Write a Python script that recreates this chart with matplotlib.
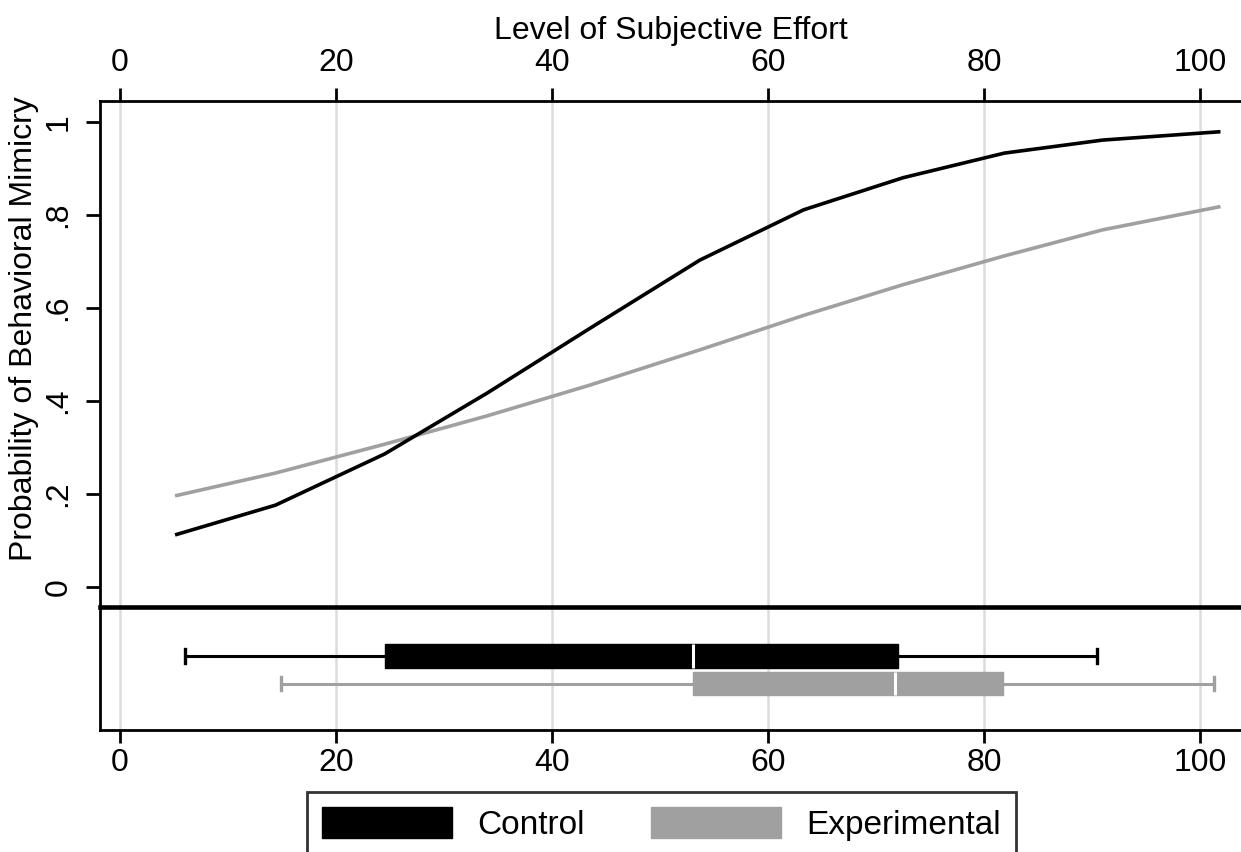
import matplotlib
matplotlib.use("Agg")
import matplotlib.pyplot as plt
from matplotlib.patches import Patch

# Predicted probability of behavioral mimicry across effort levels
effort = [5.1, 14.4, 24.5, 34.0, 43.5, 53.7, 63.3, 72.5, 81.9, 91.0, 101.9]
prob_control = [0.112, 0.176, 0.286, 0.417, 0.556, 0.703, 0.811, 0.880, 0.933, 0.961, 0.979]
prob_experimental = [0.196, 0.245, 0.307, 0.368, 0.434, 0.510, 0.584, 0.650, 0.712, 0.768, 0.818]

# Distribution of subjective effort per group (box plot summary)
groups = ["Control", "Experimental"]
whisker_low = [6.0, 14.9]
quartile_1 = [24.5, 53.1]
median = [53.1, 71.8]
quartile_3 = [72.0, 81.8]
whisker_high = [90.5, 101.3]

x_ticks = [0, 20, 40, 60, 80, 100]
y_ticks = [0, 0.2, 0.4, 0.6, 0.8, 1.0]
y_tick_labels = ["0", ".2", ".4", ".6", ".8", "1"]

BLACK = "#000000"
GRAY = "#a0a0a0"
GRID = "#dcdcdc"
colors = [BLACK, GRAY]

NARROW = ["Liberation Sans Narrow", "Liberation Sans", "DejaVu Sans"]
REGULAR = ["Liberation Sans", "DejaVu Sans"]
FS = 23

W, H = 1241, 852
fig = plt.figure(figsize=(W / 100, H / 100), dpi=100)

left = 100 / W
width = 1 - left
axb = fig.add_axes([left, (H - 730) / H, width, (730 - 607) / H])
ax = fig.add_axes([left, (H - 607) / H, width, (607 - 101) / H], sharex=axb)
axb.patch.set_visible(False)

xlim = (-1.85, 103.8)

# --- main panel: predicted probabilities ---
ax.set_xlim(*xlim)
ax.set_ylim(-0.043, 1.045)
for xv in x_ticks:
    ax.axvline(xv, color=GRID, lw=1.8, zorder=0)
ax.plot(effort, prob_experimental, color=GRAY, lw=2.6, solid_capstyle="butt", zorder=3)
ax.plot(effort, prob_control, color=BLACK, lw=2.6, solid_capstyle="butt", zorder=4)

ax.spines["right"].set_visible(False)
ax.spines["top"].set_linewidth(2.0)
ax.spines["left"].set_linewidth(2.0)
ax.spines["bottom"].set_linewidth(3.3)
ax.spines["bottom"].set_zorder(5)

ax.xaxis.set_ticks_position("top")
ax.xaxis.set_label_position("top")
ax.set_xticks(x_ticks)
ax.set_xticklabels([str(v) for v in x_ticks], family=NARROW, fontsize=FS)
ax.tick_params(axis="x", which="both", direction="out", length=9.4, width=2.0, pad=7.5)
ax.set_xlabel("Level of Subjective Effort", family=NARROW, fontsize=FS, labelpad=6)

ax.set_yticks(y_ticks)
ax.set_yticklabels(y_tick_labels, family=NARROW, fontsize=FS, rotation=90, va="center")
ax.tick_params(axis="y", direction="out", length=10, width=2.0, pad=9)
ax.set_ylabel("Probability of Behavioral Mimicry", family=REGULAR, fontsize=23)
ax.yaxis.set_label_coords(-0.0535, 0.55)

# --- lower panel: box plots of effort ---
for xv in x_ticks:
    axb.axvline(xv, color=GRID, lw=1.8, zorder=0)

stats = []
for i, g in enumerate(groups):
    stats.append(dict(label=g, whislo=whisker_low[i], q1=quartile_1[i], med=median[i],
                      q3=quartile_3[i], whishi=whisker_high[i], fliers=[]))

positions = [1, 2]
for i, s in enumerate(stats):
    c = colors[i]
    axb.bxp([s], positions=[positions[i]], widths=0.84, orientation="horizontal",
            patch_artist=True, showfliers=False, capwidths=0.5,
            boxprops=dict(facecolor=c, edgecolor=c, linewidth=1.0),
            whiskerprops=dict(color=c, linewidth=2.2),
            capprops=dict(color=c, linewidth=2.4),
            medianprops=dict(color="white", linewidth=2.2, solid_capstyle="butt"),
            manage_ticks=False, zorder=3)

axb.set_ylim(3.69, -0.782)
axb.set_xlim(*xlim)
axb.set_yticks([])
for side in ("top", "right"):
    axb.spines[side].set_visible(False)
axb.spines["left"].set_linewidth(2.0)
axb.spines["bottom"].set_linewidth(2.0)
axb.xaxis.set_ticks_position("bottom")
axb.set_xticks(x_ticks)
axb.set_xticklabels([str(v) for v in x_ticks], family=NARROW, fontsize=FS)
axb.tick_params(axis="x", direction="out", length=9.4, width=2.0, pad=3.5)

# --- legend ---
handles = [Patch(facecolor=BLACK, edgecolor=BLACK), Patch(facecolor=GRAY, edgecolor=GRAY)]
leg = fig.legend(handles, groups, loc="upper left",
                 bbox_to_anchor=(307 / W, 1 - 792 / H), ncol=2, frameon=True,
                 fancybox=False, borderaxespad=0, borderpad=0.45,
                 handlelength=3.9, handleheight=1.05, handletextpad=0.75,
                 columnspacing=2.0, prop=dict(family=NARROW, size=24))
leg.get_frame().set_edgecolor(BLACK)
leg.get_frame().set_linewidth(2.0)

fig.savefig("out.png", dpi=100)
